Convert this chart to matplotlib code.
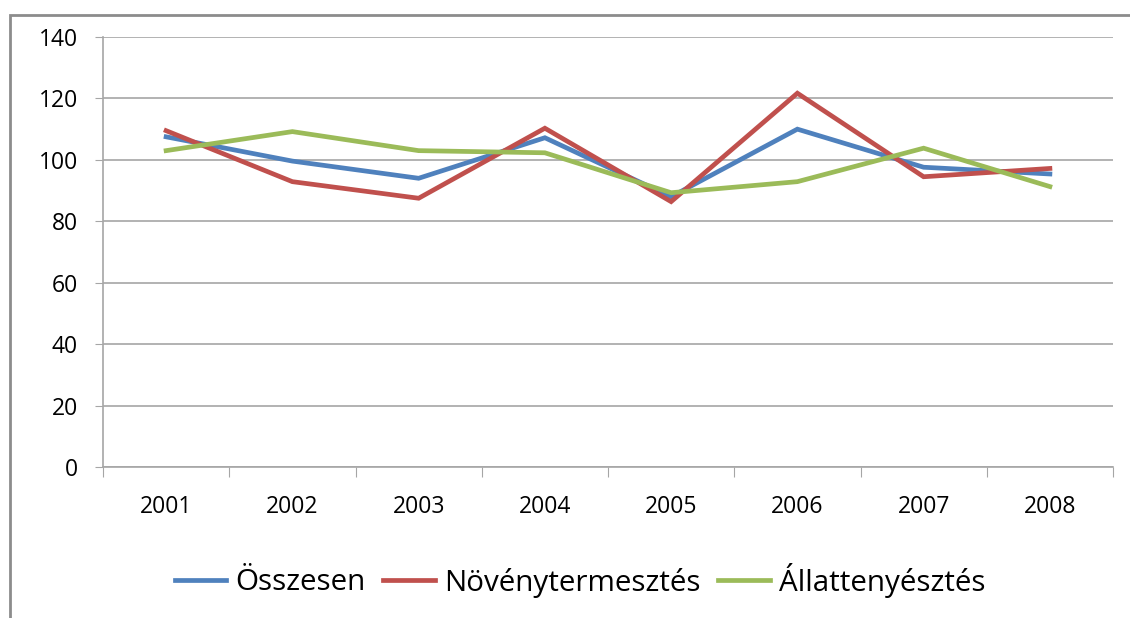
import numpy as np
import matplotlib
matplotlib.use('Agg')
import matplotlib.pyplot as plt
from matplotlib.patches import Rectangle

years = ['2001', '2002', '2003', '2004', '2005', '2006', '2007', '2008']
osszesen = [107.5, 99.6, 94.0, 107.2, 88.0, 110.0, 97.6, 95.4]
noveny = [109.5, 92.9, 87.5, 110.3, 86.4, 121.7, 94.5, 97.2]
allat = [103.0, 109.2, 103.0, 102.3, 89.3, 92.9, 103.8, 91.3]

plt.rcParams['font.family'] = ['Open Sans', 'DejaVu Sans']

fig = plt.figure(figsize=(11.3, 6.18), dpi=100)
ax = fig.add_axes([103 / 1130, 1 - 467 / 618, 1010 / 1130, 430 / 618])

x = np.arange(len(years))
ax.plot(x, osszesen, color='#4F81BD', lw=3.4, label='Összesen', solid_joinstyle='miter')
ax.plot(x, noveny, color='#C0504D', lw=3.4, label='Növénytermesztés', solid_joinstyle='miter')
ax.plot(x, allat, color='#9BBB59', lw=3.4, label='Állattenyésztés', solid_joinstyle='miter')

ax.set_xlim(-0.5, len(years) - 0.5)
ax.set_ylim(0, 140)
ax.set_yticks(np.arange(0, 141, 20))
ax.yaxis.grid(True, color='#A6A6A6', lw=1.2)
ax.set_axisbelow(True)

# category boundaries get the tick marks, labels sit in between
ax.set_xticks(np.arange(-0.5, len(years), 1))
ax.set_xticklabels([])
ax.set_xticks(x, minor=True)
ax.set_xticklabels(years, minor=True)
ax.tick_params(axis='x', which='minor', length=0, pad=20, labelsize=16.5)
ax.tick_params(axis='x', which='major', length=7, color='#A6A6A6', direction='out')
ax.tick_params(axis='y', length=6, color='#A6A6A6', pad=12, labelsize=16.5)

for s in ['top', 'right']:
    ax.spines[s].set_visible(False)
for s in ['left', 'bottom']:
    ax.spines[s].set_color('#A6A6A6')
    ax.spines[s].set_linewidth(1.2)

leg = fig.legend(loc='center', bbox_to_anchor=(580 / 1130, 1 - 580 / 618), ncol=3,
                 frameon=False, fontsize=21.3, handlelength=1.75, handletextpad=0.3,
                 columnspacing=0.6)

# outer chart frame (partly cut off)
fig.add_artist(Rectangle((10 / 1130, -0.1), 1.2, 1.1 - 15 / 618, transform=fig.transFigure,
                         fill=False, edgecolor='#8C8C8C', lw=2))

fig.savefig('out.png', dpi=100)
